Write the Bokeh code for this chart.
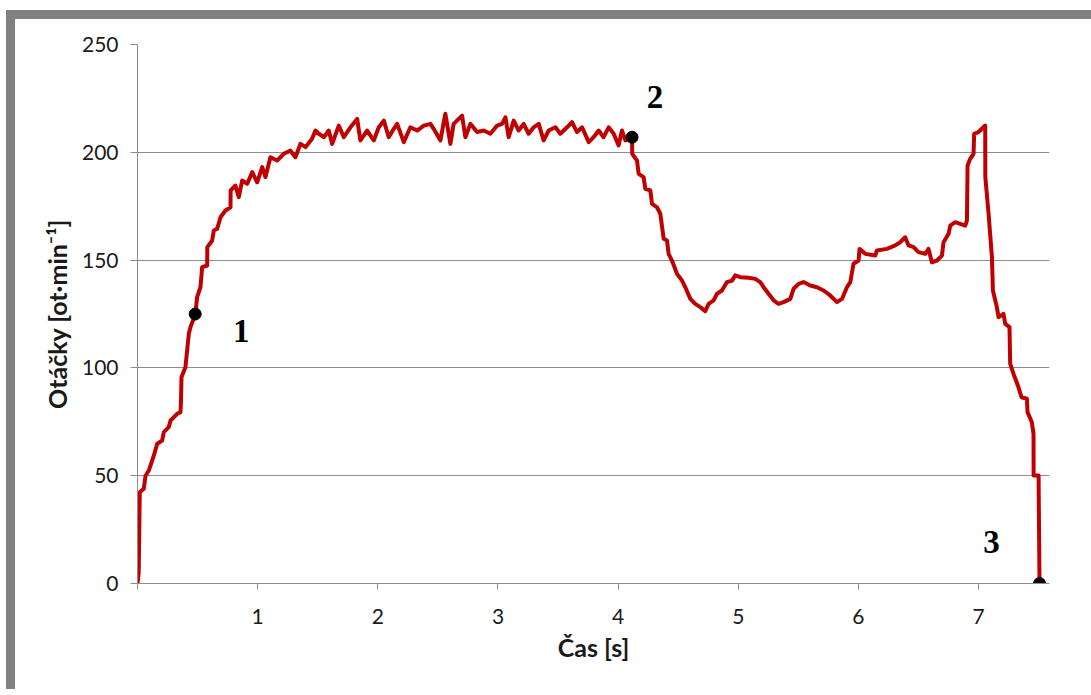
from bokeh.plotting import figure
from bokeh.models import Range1d, FixedTicker, Label, Div
from bokeh.layouts import column, row
from bokeh.embed import file_html
from bokeh.resources import INLINE

# ---- data ----
time_s = [0.000, 0.010, 0.019, 0.052, 0.067, 0.094, 0.122, 0.136, 0.164, 0.205, 0.219, 0.260, 0.275,
          0.330, 0.358, 0.362, 0.366, 0.399, 0.427, 0.441, 0.482, 0.496, 0.524, 0.538, 0.580, 0.581,
          0.621, 0.635, 0.663, 0.691, 0.732, 0.774, 0.775, 0.815, 0.843, 0.871, 0.913, 0.955, 0.996,
          1.038, 1.065, 1.106, 1.162, 1.217, 1.273, 1.314, 1.356, 1.398, 1.453, 1.481, 1.509, 1.550,
          1.592, 1.620, 1.675, 1.717, 1.772, 1.828, 1.855, 1.911, 1.966, 2.008, 2.050, 2.091, 2.133,
          2.161, 2.216, 2.271, 2.327, 2.383, 2.438, 2.465, 2.521, 2.562, 2.604, 2.631, 2.701, 2.729,
          2.770, 2.826, 2.881, 2.937, 2.993, 3.034, 3.062, 3.089, 3.131, 3.172, 3.214, 3.255, 3.297,
          3.339, 3.380, 3.422, 3.478, 3.519, 3.575, 3.616, 3.658, 3.700, 3.755, 3.796, 3.838, 3.879,
          3.921, 3.963, 4.004, 4.032, 4.060, 4.116, 4.117, 4.157, 4.171, 4.212, 4.226, 4.268, 4.282,
          4.324, 4.351, 4.379, 4.407, 4.420, 4.448, 4.490, 4.532, 4.559, 4.601, 4.642, 4.684, 4.725,
          4.753, 4.795, 4.823, 4.864, 4.906, 4.948, 4.975, 5.017, 5.086, 5.141, 5.183, 5.211, 5.252,
          5.294, 5.335, 5.377, 5.433, 5.460, 5.502, 5.543, 5.599, 5.655, 5.710, 5.765, 5.821, 5.863,
          5.904, 5.932, 5.959, 6.001, 6.009, 6.057, 6.140, 6.154, 6.237, 6.306, 6.348, 6.389, 6.417,
          6.459, 6.500, 6.556, 6.583, 6.611, 6.653, 6.695, 6.708, 6.750, 6.764, 6.805, 6.889, 6.903,
          6.908, 6.930, 6.958, 6.963, 6.999, 7.055, 7.056, 7.083, 7.111, 7.119, 7.152, 7.166, 7.207,
          7.221, 7.257, 7.263, 7.290, 7.332, 7.357, 7.402, 7.407, 7.443, 7.457, 7.458, 7.499, 7.507]
rpm = [0.0, 5.0, 42.3, 43.9, 50.0, 52.4, 57.0, 59.4, 64.8, 66.3, 70.2, 72.5, 75.6,
       78.7, 79.5, 85.0, 95.7, 100.3, 115.8, 118.9, 125.0, 132.8, 137.4, 146.7, 147.5, 156.0,
       159.0, 163.7, 164.5, 169.9, 173.0, 174.5, 182.3, 184.6, 179.2, 186.9, 185.4, 190.8, 186.1,
       193.1, 188.5, 197.7, 196.2, 199.3, 200.8, 197.7, 203.9, 202.4, 206.3, 210.1, 208.6, 207.0,
       210.1, 203.9, 212.4, 207.0, 211.6, 215.5, 205.5, 210.1, 205.5, 211.6, 214.7, 207.0, 210.9,
       213.2, 204.7, 211.6, 210.1, 212.4, 213.2, 210.9, 205.5, 217.9, 203.9, 213.2, 217.0, 207.0,
       213.2, 209.4, 210.1, 208.6, 212.4, 213.2, 216.2, 207.0, 214.7, 210.1, 213.2, 208.6, 211.6,
       213.2, 205.5, 210.1, 211.6, 208.6, 211.6, 214.0, 209.4, 211.6, 204.7, 207.0, 210.1, 207.0,
       211.6, 208.6, 203.2, 210.1, 205.5, 207.0, 199.3, 196.2, 190.0, 188.5, 183.1, 182.3, 176.1,
       174.5, 171.5, 159.9, 159.1, 152.9, 149.8, 143.6, 140.5, 137.4, 132.0, 129.7, 128.2, 126.3,
       129.7, 131.3, 134.4, 135.9, 139.8, 140.5, 142.9, 142.1, 141.8, 141.3, 139.8, 137.4, 134.4,
       131.3, 129.7, 130.5, 132.0, 136.7, 139.0, 139.8, 138.2, 137.4, 135.9, 133.6, 130.5, 132.0,
       137.4, 139.8, 148.3, 149.8, 155.2, 152.9, 152.1, 154.5, 155.2, 156.8, 158.3, 160.6, 156.8,
       156.0, 153.7, 152.9, 155.2, 149.0, 149.8, 152.1, 158.3, 162.2, 166.0, 167.6, 166.0, 168.4,
       193.9, 197.0, 199.3, 208.6, 209.4, 212.4, 188.5, 171.5, 151.3, 135.9, 128.2, 123.5, 125.1,
       120.5, 118.9, 101.9, 97.3, 91.0, 86.4, 85.7, 79.5, 74.8, 69.4, 50.1, 50.1, 0.0]

marker_x = [0.48, 4.116, 7.507]
marker_y = [125.0, 207.0, 0.0]
marker_labels = ["1", "2", "3"]

x_ticks = [0, 1, 2, 3, 4, 5, 6, 7]
y_ticks = [0, 50, 100, 150, 200, 250]
x_title = "Čas [s]"
y_title = "Otáčky [ot·min⁻¹]"

# ---- figure ----
p = figure(width=1070, height=670, output_backend="svg", toolbar_location=None,
           x_range=Range1d(0, 7.59), y_range=Range1d(0, 250),
           min_border_left=122, min_border_right=36, min_border_top=25, min_border_bottom=106)
p.outline_line_color = None
p.background_fill_color = "white"
p.border_fill_color = "white"

grid_col = "#8c8c8c"
tick_font = "Lato"

p.xaxis.ticker = FixedTicker(ticks=x_ticks)
p.yaxis.ticker = FixedTicker(ticks=y_ticks)
p.xaxis.major_label_overrides = {0: ""}
p.xgrid.grid_line_color = None
p.ygrid.grid_line_color = grid_col
p.ygrid.grid_line_width = 1

for ax in (p.xaxis, p.yaxis):
    ax.axis_line_color = grid_col
    ax.axis_line_width = 1
    ax.major_tick_line_color = grid_col
    ax.major_tick_in = 0
    ax.minor_tick_line_color = None
    ax.major_label_text_font = tick_font
    ax.major_label_text_font_size = "21px"
    ax.major_label_text_color = "#1a1a1a"
    ax.axis_label_text_font = tick_font
    ax.axis_label_text_font_style = "bold"
    ax.axis_label_text_font_size = "25px"
    ax.axis_label_text_color = "#1a1a1a"

p.xaxis.major_tick_out = 6
p.yaxis.major_tick_out = 7
p.xaxis.major_label_standoff = 19
p.yaxis.major_label_standoff = 12
p.xaxis.axis_label = x_title
p.yaxis.axis_label = y_title
p.xaxis.axis_label_standoff = 5
p.yaxis.axis_label_standoff = 7

p.line(time_s, rpm, line_color="#c00000", line_width=4, line_join="round")
p.scatter(marker_x, marker_y, size=12, color="black")

offsets = [(46, -17), (23, 40), (-48, 42)]
for mx, my, lab, (dx, dy) in zip(marker_x, marker_y, marker_labels, offsets):
    p.add_layout(Label(x=mx, y=my, text=lab, x_offset=dx, y_offset=dy,
                       text_align="center", text_baseline="middle",
                       text_font="Liberation Serif", text_font_style="bold",
                       text_font_size="33px", text_color="black"))

# decorative gray frame of the screenshot
top_bar = Div(text="", width=1085, height=9, margin=(10, 0, 0, 6),
              styles={"background-color": "#808080"})
left_bar = Div(text="", width=9, height=670, margin=(0, 0, 0, 6),
               styles={"background-color": "#808080"})
layout = column(top_bar, row(left_bar, p, spacing=0), spacing=0)

open("out.html", "w").write(file_html(layout, INLINE))
